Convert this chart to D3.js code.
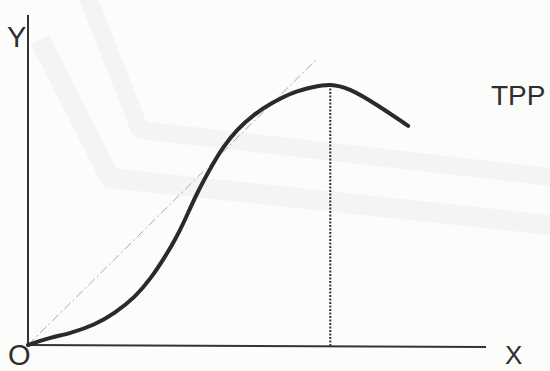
<!DOCTYPE html>
<html>
<head>
<meta charset="utf-8">
<script src="https://cdn.jsdelivr.net/npm/d3@7"></script>
<style>
  html, body { margin: 0; padding: 0; background: #fcfcfa; }
  svg { display: block; }
  text { font-family: "Liberation Sans", Arial, sans-serif; fill: #2e2e2e; }
</style>
</head>
<body>
<svg id="chart" width="550" height="371"></svg>
<script>
// Input (X) and total physical product (Y), in chart units (0-100)
const inputX = [0, 4.4, 9.4, 14.6, 19, 23.4, 26.9, 29.9, 32.1, 34.3, 36.6, 40.4, 42.6, 45.6, 49.1, 53.5, 57.9, 62.2, 66, 70, 76, 83];
const tppY   = [0, 2.1, 3.6, 6.1, 9.7, 14.5, 20.3, 26.7, 31.8, 37.9, 45.3, 55, 60, 65.2, 69.7, 73.6, 76.7, 78.2, 79.2, 77.9, 73, 66.4];
// Ray from origin (dash-dot) and the input level at maximum TPP
const rayX = [0, 63.3];
const rayY = [0, 87];
const peakX = 66;
const peakY = 78.8;
// Axis extents and labels
const axisMax = 100;
const labels = { y: "Y", x: "X", origin: "O", curve: "TPP" };

const svg = d3.select("#chart");
const x = d3.scaleLinear().domain([0, axisMax]).range([28, 486]);
const y = d3.scaleLinear().domain([0, axisMax]).range([345, 15]);

// very faint scanned watermark bands
const wm = svg.append("g").attr("fill", "none").attr("stroke", "#f4f4f2").attr("stroke-linejoin", "round");
wm.append("path").attr("stroke-width", 18)
  .attr("d", "M 85 -10 L 140 130 L 560 178");
wm.append("path").attr("stroke-width", 20)
  .attr("d", "M 40 40 L 110 178 L 560 226");

// Axes
svg.append("line")
  .attr("x1", x(0)).attr("y1", y(0)).attr("x2", x(0)).attr("y2", y(axisMax))
  .attr("stroke", "#333").attr("stroke-width", 2);
svg.append("line")
  .attr("x1", x(0)).attr("y1", y(0)).attr("x2", x(axisMax)).attr("y2", y(0) + 2)
  .attr("stroke", "#333").attr("stroke-width", 2);

// Ray from origin
svg.append("line")
  .attr("x1", x(rayX[0])).attr("y1", y(rayY[0]))
  .attr("x2", x(rayX[1])).attr("y2", y(rayY[1]))
  .attr("stroke", "#a8a8a8").attr("stroke-width", 1)
  .attr("stroke-dasharray", "9,3,2,3");

// Vertical dotted line at max TPP
svg.append("line")
  .attr("x1", x(peakX)).attr("y1", y(peakY))
  .attr("x2", x(peakX)).attr("y2", y(0) + 1)
  .attr("stroke", "#333").attr("stroke-width", 2)
  .attr("stroke-dasharray", "2,1.5");

// TPP curve
const pts = inputX.map((d, i) => [d, tppY[i]]);
const line = d3.line().x(d => x(d[0])).y(d => y(d[1])).curve(d3.curveBasis);
svg.append("path").datum(pts)
  .attr("d", line)
  .attr("fill", "none").attr("stroke", "#2a2a2a").attr("stroke-width", 4)
  .attr("stroke-linecap", "round");

// Labels
svg.append("text").attr("x", 7).attr("y", 47).attr("font-size", 29).text(labels.y);
svg.append("text").attr("x", 8).attr("y", 365).attr("font-size", 29).text(labels.origin);
svg.append("text").attr("x", 505).attr("y", 364).attr("font-size", 26).text(labels.x);
svg.append("text").attr("x", 491).attr("y", 105).attr("font-size", 28).text(labels.curve);
</script>
</body>
</html>
